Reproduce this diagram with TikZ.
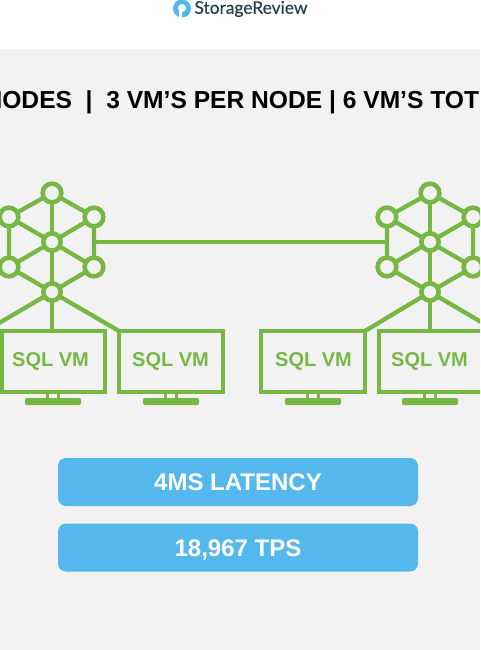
\documentclass[tikz,border=0pt]{standalone}
\usepackage{fontspec}
\setmainfont{Liberation Sans}
\newfontfamily\logofont[FakeBold=0.25]{Lato}
\usetikzlibrary{positioning, calc}
\definecolor{panelgray}{HTML}{F2F2F2}
\definecolor{vmgreen}{HTML}{76B843}
\definecolor{pillblue}{HTML}{55B8EC}
\definecolor{logoslate}{HTML}{23404F}
\tikzset{
  hubnode/.style={circle, draw=vmgreen, line width=4.6pt, minimum size=18.7pt, inner sep=0pt, outer sep=0pt},
  hubcore/.style={hubnode, minimum size=17.3pt},
  hubline/.style={draw=vmgreen, line width=4.3pt},
  vmbox/.style={rectangle, draw=vmgreen, line width=4pt, minimum width=104pt, minimum height=61pt, inner sep=0pt, outer sep=0pt},
  vmlabel/.style={text=vmgreen, font=\fontsize{20}{22}\selectfont\bfseries, inner sep=0pt},
  standbase/.style={rectangle, fill=vmgreen, rounded corners=2pt, minimum width=56pt, minimum height=7pt, inner sep=0pt},
  standneck/.style={rectangle, draw=vmgreen, line width=2.6pt, minimum width=11pt, minimum height=6pt, inner sep=0pt},
  pillbox/.style={rectangle, fill=pillblue, rounded corners=8pt, minimum width=360pt, minimum height=48pt, text=white, text height=17.2pt, text depth=0pt, font=\fontsize{24}{28}\selectfont\bfseries, inner sep=0pt}
}
\begin{document}
\begin{tikzpicture}[x=1pt, y=-1pt]
  \useasboundingbox (0,0) rectangle (480,650);
  \clip (0,0) rectangle (480,650);

  % Page and header
  \fill[white] (0,0) rectangle (480,49);
  \fill[panelgray] (0,49) rectangle (480,650);
  \node[circle, fill=pillblue, minimum size=18pt, inner sep=0pt] (logoicon) at (182,8.5) {};
  \node[circle, fill=white, minimum size=8pt, inner sep=0pt] (logohole) at (182,8) {};
  \fill[white] (logohole.south west) rectangle ++(3,7);
  \node[font=\logofont\fontsize{17.4}{18}\selectfont, text=logoslate, inner sep=0pt] (logotext) at (251,9) {StorageReview};

  % Title, cut by the page
  \node[anchor=west, font=\fontsize{24.6}{28}\selectfont\bfseries, text=black, inner sep=0pt] (title) at (-15.6,102.5) {NODES\ \ |\ \ 3 VM’S PER NODE | 6 VM’S TOT};

  % Left hub
  \node[hubnode] (ltop) at (52,193) {};
  \node[hubnode] (lul) at (9,217) {};
  \node[hubnode] (lur) at (94,217) {};
  \node[hubcore] (lmid) at (52,242) {};
  \node[hubnode] (lll) at (9,267) {};
  \node[hubnode] (llr) at (94,267) {};
  \node[hubcore] (lbot) at (52,292) {};

  % Right hub
  \node[hubnode] (rtop) at (430,193) {};
  \node[hubnode] (rul) at (387,217) {};
  \node[hubnode] (rur) at (473,217) {};
  \node[hubcore] (rmid) at (430,242) {};
  \node[hubnode] (rll) at (387,267) {};
  \node[hubnode] (rlr) at (473,267) {};
  \node[hubcore] (rbot) at (430,292) {};

  \foreach \hub in {l,r} {
    \draw[hubline] (\hub top) -- (\hub ul) -- (\hub ll) -- (\hub bot) -- (\hub lr) -- (\hub ur) -- (\hub top);
    \foreach \spoke in {top,ul,ur,ll,lr,bot}
      \draw[hubline] (\hub mid) -- (\hub\spoke);
  }

  % Link between hubs
  \coordinate (linkl) at (94,242);
  \coordinate (linkr) at (387,242);
  \draw[hubline] (linkl) -- (linkr);

  % Monitors
  \node[vmbox, minimum width=103.5pt] (vma) at (53.25,361.5) {};
  \node[vmbox] (vmb) at (171,361.5) {};
  \node[vmbox] (vmc) at (313,361.5) {};
  \node[vmbox] (vmd) at (431,361.5) {};
  \node[vmlabel] (vmatext) at (50.5,361.5) {SQL VM};
  \node[vmlabel] (vmbtext) at (170.5,361.5) {SQL VM};
  \node[vmlabel] (vmctext) at (313.5,361.5) {SQL VM};
  \node[vmlabel] (vmdtext) at (429.5,361.5) {SQL VM};

  \foreach \neckx in {53,171,313,430} {
    \node[standneck] at (\neckx,396) {};
    \node[standbase] at (\neckx,401.5) {};
  }

  % Hub to monitors
  \coordinate (farl) at (-6,326);
  \coordinate (farr) at (488,326);
  \draw[hubline] (lbot) -- (farl);
  \draw[hubline] (lbot) -- (lbot |- vma.north);
  \draw[hubline] (lbot) -- (vmb.north west);
  \draw[hubline] (rbot) -- (vmc.north east);
  \draw[hubline] (rbot) -- (rbot |- vmd.north);
  \draw[hubline] (rbot) -- (farr);

  % Results
  \node[pillbox] (latency) at (238,482) {4MS LATENCY};
  \node[pillbox] (tps) at (238,547.5) {18,967 TPS};
\end{tikzpicture}
\end{document}
